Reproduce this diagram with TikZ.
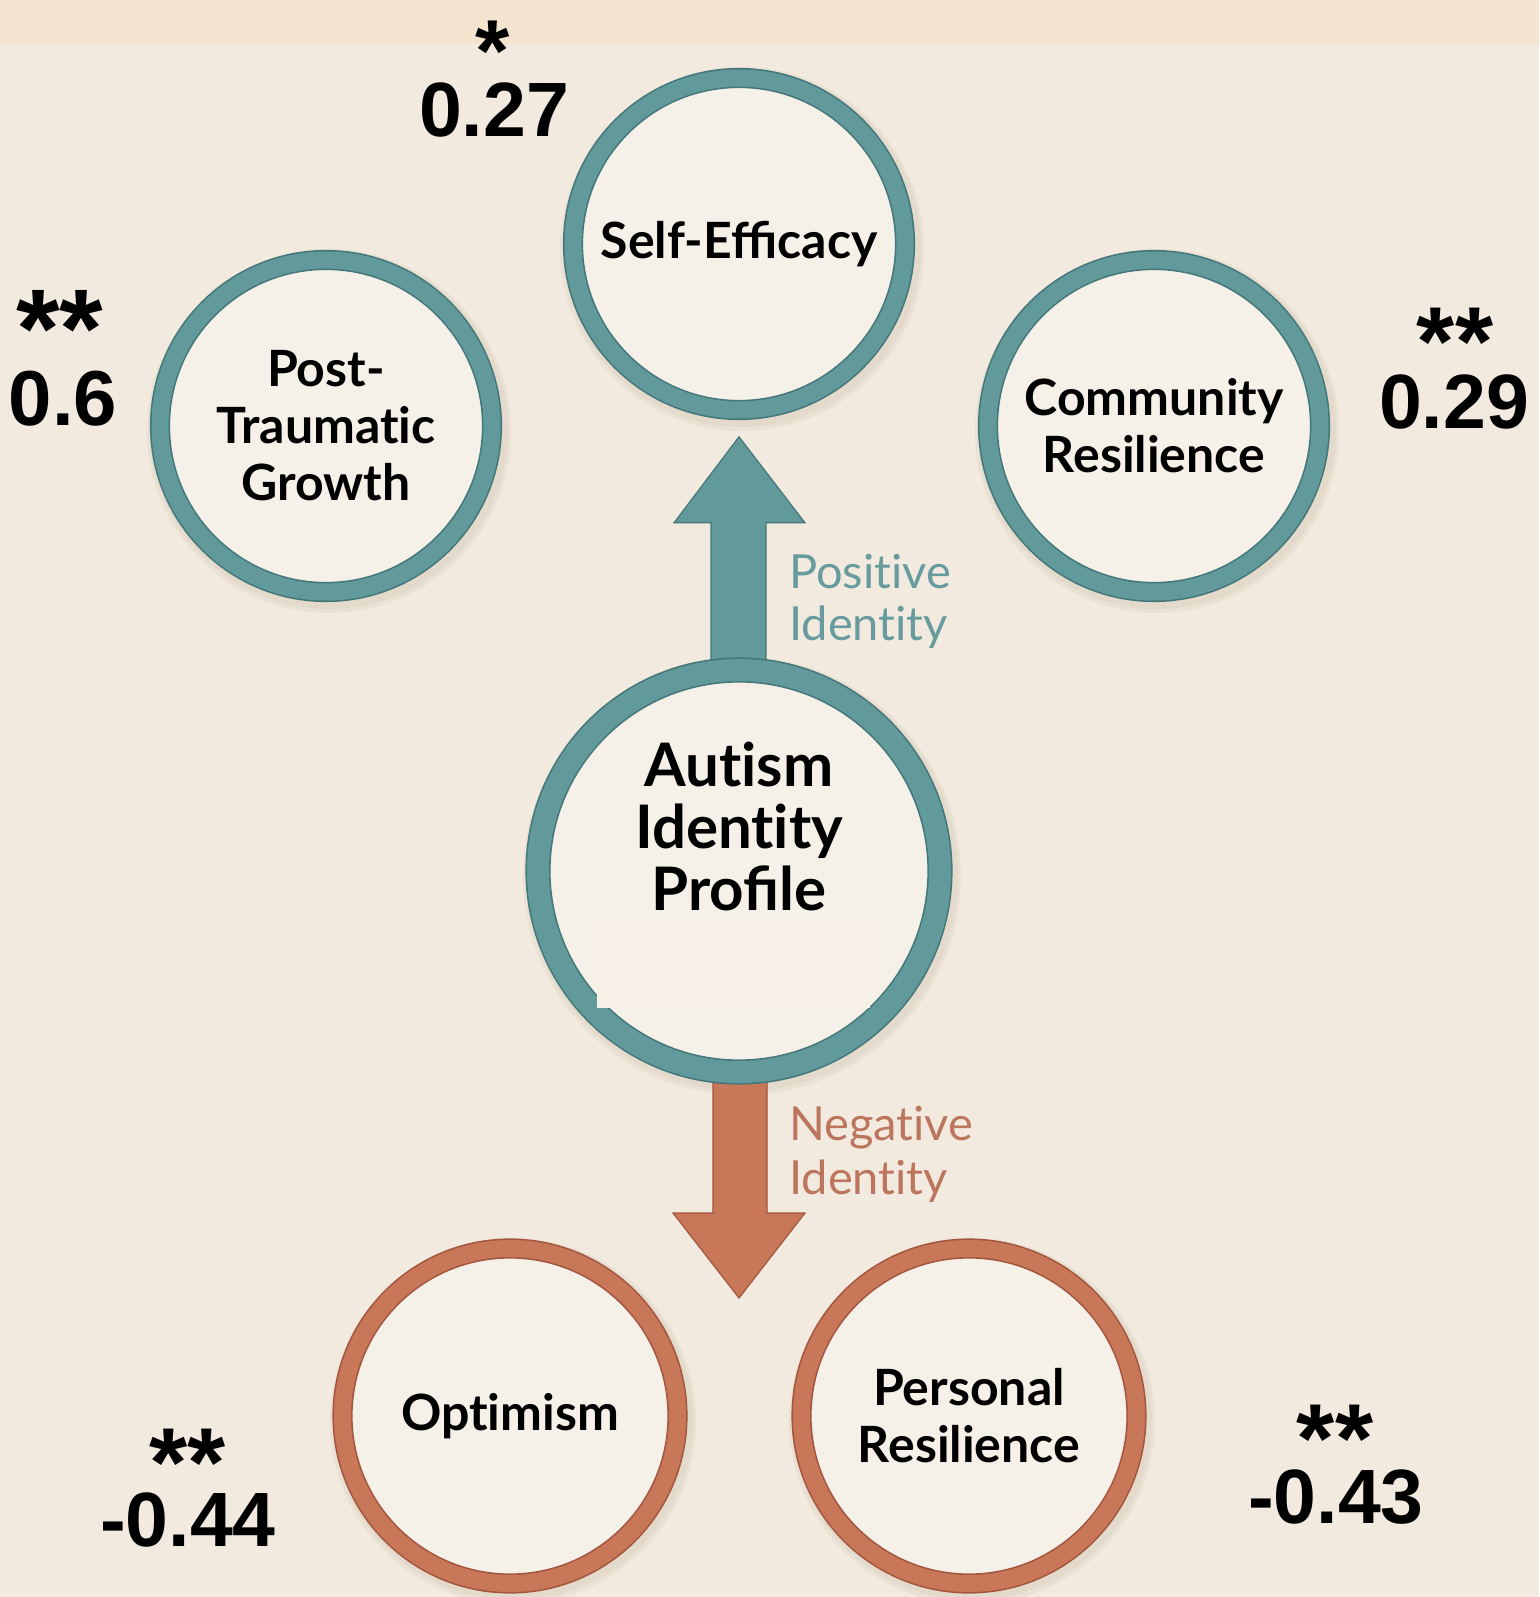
\documentclass[tikz,border=0pt]{standalone}
\usepackage{fontspec}
\usepackage{graphicx}
\usetikzlibrary{calc}
\newfontfamily\lato{Lato}
\newcommand\nl{\kern0pt }
\newfontfamily\arialfont{Liberation Sans}
\definecolor{bgc}{HTML}{F2EADF}
\definecolor{bandc}{HTML}{F4E5D1}
\definecolor{bubfill}{HTML}{F5F0E8}
\definecolor{patchc}{HTML}{F6F0E6}
\definecolor{tealring}{HTML}{629A9C}
\definecolor{tealdark}{HTML}{44777A}
\definecolor{tealtxt}{HTML}{679B9D}
\definecolor{orngring}{HTML}{C97759}
\definecolor{orngdark}{HTML}{A3563E}
\definecolor{orngtxt}{HTML}{BD765E}
\definecolor{shadowc}{HTML}{B8A890}
\begin{document}
\begin{tikzpicture}[x=1pt,y=-1pt,
  bubble/.style={circle, fill=bubfill, line width=1.6pt, double distance=17pt,
    inner sep=0pt, minimum size=332pt, align=center, text=black,
    font=\lato\bfseries\fontsize{50}{57}\selectfont},
  posbub/.style={bubble, draw=tealdark, double=tealring},
  negbub/.style={bubble, draw=orngdark, double=orngring},
  bigbub/.style={posbub, minimum size=402pt, double distance=22pt},
  num/.style={inner sep=0pt, text=black, font=\arialfont\bfseries},
  lbl/.style={inner sep=0pt, anchor=base west, font=\lato\fontsize{47}{52}\selectfont},
  upar/.style={fill=tealring, draw=tealdark, line width=1.2pt, line join=miter},
  dnar/.style={fill=orngring, draw=orngdark, line width=1.2pt, line join=miter},
  shad/.style={fill=shadowc, opacity=0.12}]
\useasboundingbox (0,0) rectangle (1539,1597);
\fill[bgc] (0,0) rectangle (1539,1597);
\fill[bandc] (0,0) rectangle (1539,44);

% soft shadows
\foreach \cx/\cy/\r in {739/244/176, 326/426/176, 1154/426/176, 739/871/213, 510/1416/177, 969/1416/177}{
  \fill[shad] (\cx+3,\cy+5) circle (\r+6);
  \fill[shad] (\cx+3,\cy+4) circle (\r+3);
}

% nodes (bubbles)
\node[posbub] (se) at (739,244) {Self-Efficacy};
\node[posbub] (ptg) at (326,426) {Post-\\Traumat\nl ic\\Growth};
\node[posbub] (cr) at (1154,426) {Community\\Resilience};
\node[negbub, minimum size=335pt] (opt) at (510,1416) {Opt\nl imism};
\node[negbub, minimum size=335pt] (pr) at (969,1416) {Personal\\Resilience};

% connectors (block arrows)
\coordinate (upTip) at ($(se.south)+(0,26)$);
\coordinate (upBot) at (739,668);
\filldraw[upar] ($(upBot)+(-28,0)$) -- ($(upTip)+(-28,86)$) -- ($(upTip)+(-65,86)$)
  -- (upTip) -- ($(upTip)+(66,86)$) -- ($(upTip)+(27,86)$) -- ($(upBot)+(27,0)$) -- cycle;
\coordinate (dnTop) at (739,1074);
\coordinate (dnTip) at (739,1298);
\filldraw[dnar] ($(dnTop)+(-26,0)$) -- ($(dnTip)+(-26,-85)$) -- ($(dnTip)+(-66,-85)$)
  -- (dnTip) -- ($(dnTip)+(66,-85)$) -- ($(dnTip)+(28,-85)$) -- ($(dnTop)+(28,0)$) -- cycle;

\node[bigbub] (aip) at (739,871) {};
\node[inner sep=0pt, align=center, text=black, font=\lato\bfseries\fontsize{60}{62}\selectfont]
  (aiptext) at (739,826) {Aut\nl ism\\Ident\nl ity\\Profile};
\fill[patchc] (597,921) rectangle (870,1008);

% arrow labels
\node[lbl, text=tealtxt] (pos1) at (789,588) {Posit\nl ive};
\node[lbl, text=tealtxt] (pos2) at (789,640) {Ident\nl ity};
\node[lbl, text=orngtxt] (neg1) at (789,1140) {Negat\nl ive};
\node[lbl, text=orngtxt] (neg2) at (789,1194) {Ident\nl ity};

% numbers
\node[num, anchor=north] (s1) at (493,21) {\fontsize{88}{88}\selectfont *};
\node[num, anchor=base] (v1) at (494,137) {\fontsize{77}{77}\selectfont 0.27};
\node[num, anchor=north] (s2) at (60,290) {\fontsize{112}{112}\selectfont **};
\node[num, anchor=base] (v2) at (63,425) {\fontsize{78}{78}\selectfont 0.6};
\node[num, anchor=north] (s3) at (1455,308) {\fontsize{98}{98}\selectfont **};
\node[num, anchor=base] (v3) at (1454,428) {\fontsize{77}{77}\selectfont 0.29};
\node[num, anchor=north] (s4) at (188,1429) {\fontsize{98}{98}\selectfont **};
\node[num, anchor=base] (v4) at (188,1546) {\fontsize{77}{77}\selectfont -0.44};
\node[num, anchor=north] (s5) at (1335,1405) {\fontsize{98}{98}\selectfont **};
\node[num, anchor=base] (v5) at (1336,1523) {\fontsize{77}{77}\selectfont -0.43};
\end{tikzpicture}
\end{document}
